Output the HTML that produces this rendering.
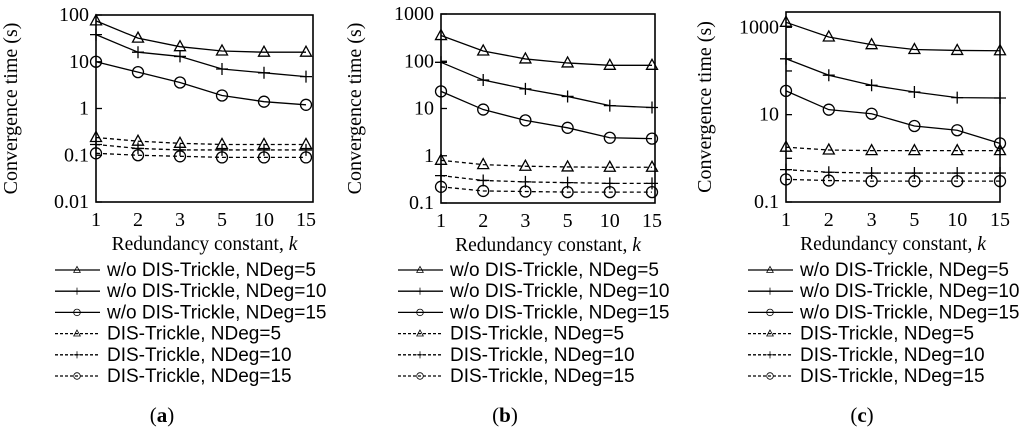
<!DOCTYPE html>
<html><head><meta charset="utf-8"><style>
body{margin:0;background:#fff;width:1024px;height:436px;overflow:hidden}
text{font-family:"Liberation Serif","Times New Roman",serif;}
text.leg{font-family:"Liberation Sans",Arial,sans-serif;}
</style></head><body>
<svg id="s" width="1024" height="436" font-family="Liberation Serif, serif"></svg>
<script>
const categories=["1","2","3","5","10","15"];
const seriesNames=["w/o DIS-Trickle, NDeg=5","w/o DIS-Trickle, NDeg=10","w/o DIS-Trickle, NDeg=15","DIS-Trickle, NDeg=5","DIS-Trickle, NDeg=10","DIS-Trickle, NDeg=15"];
const aWo5=[75,32,21,17,16,16];
const aWo10=[38,16,13,7,5.8,4.8];
const aWo15=[10,6,3.6,1.9,1.4,1.2];
const aDis5=[0.24,0.2,0.18,0.17,0.17,0.17];
const aDis10=[0.17,0.14,0.13,0.13,0.13,0.13];
const aDis15=[0.11,0.1,0.095,0.09,0.09,0.09];
const bWo5=[350,165,112,92,82,82];
const bWo10=[95,40,26,18,11.5,10.5];
const bWo15=[23,9.5,5.6,3.9,2.4,2.3];
const bDis5=[0.8,0.65,0.6,0.58,0.57,0.57];
const bDis10=[0.38,0.3,0.28,0.27,0.26,0.26];
const bDis15=[0.22,0.18,0.175,0.17,0.17,0.17];
const cWo5=[1300,600,400,310,295,290];
const cWo10=[190,80,47,33,24.5,24];
const cWo15=[35,13,10.5,5.5,4.4,2.2];
const cDis5=[1.8,1.55,1.5,1.5,1.5,1.5];
const cDis10=[0.55,0.48,0.46,0.46,0.46,0.46];
const cDis15=[0.33,0.31,0.3,0.3,0.3,0.3];
const aTicks=["100","10","1","0.1","0.01"];
const bTicks=["1000","100","10","1","0.1"];
const cTicks=["1000","","10","","0.1"];
const markers=["tri","plus","circ","tri","plus","circ"];
const S=document.getElementById('s');
const NS="http://www.w3.org/2000/svg";
function mk(t,a,p){const e=document.createElementNS(NS,t);for(const k in a)e.setAttribute(k,a[k]);(p||S).appendChild(e);return e;}
function marker(g,m,x,y){
  if(m==="tri"){const e=mk('polygon',{points:`${x},${y-6} ${x-5.5},${y+4} ${x+5.5},${y+4}`,fill:'none',stroke:'#000','stroke-width':1.3},g);}
  else if(m==="plus"){const e=mk('path',{d:`M${x-6},${y}H${x+6}M${x},${y-6}V${y+6}`,stroke:'#000','stroke-width':1.3},g);}
  else {const e=mk('circle',{cx:x,cy:y,r:5.5,fill:'none',stroke:'#000','stroke-width':1.3},g);}
}
function chart(id,L,R,T,B,x0,dx,logMin,logMax,tickLabels,series,titleX,leg,capX,cap){
  const g=mk('g',{});
  
  
  const xs=i=>x0+i*dx;
  const ys=v=>B-(Math.log10(v)-logMin)/(logMax-logMin)*(B-T);
  const box=mk('rect',{x:L,y:T,width:R-L,height:B-T,fill:'none',stroke:'#000','stroke-width':1.6},g);
  
  const top=Math.floor(logMax);
  tickLabels.forEach((t,i)=>{
    const y=ys(Math.pow(10,top-i));
    const tk=mk('line',{x1:L,x2:L+6,y1:y,y2:y,stroke:'#000','stroke-width':1.3},g);
    
    if(t){const tx=mk('text',{x:L-7,y:y+6,'text-anchor':'end','font-size':20},g);tx.textContent=t;
    }
  });
  categories.forEach((c,i)=>{
    const t=mk('text',{x:xs(i),y:B+24,'text-anchor':'middle','font-size':20},g);t.textContent=c;
    
  });
  const xt=mk('text',{x:(L+R)/2,y:B+48,'text-anchor':'middle','font-size':19.5},g);
  xt.innerHTML='Redundancy constant, <tspan font-style="italic">k</tspan>';
  
  const yt=mk('text',{x:0,y:0,'text-anchor':'middle','font-size':20,transform:`translate(${titleX},${(T+B)/2}) rotate(-90)`},g);
  yt.textContent='Convergence time (s)';
  
  series.forEach((vals,si)=>{
    const dash=si>=3?'4,3':null;
    const pts=vals.map((v,i)=>xs(i)+','+ys(v)).join(' ');
    const a={points:pts,fill:'none',stroke:'#000','stroke-width':1.3};if(dash)a['stroke-dasharray']=dash;
    const pl=mk('polyline',a,g);
    
    vals.forEach((v,i)=>marker(g,markers[si],xs(i),ys(v)));
    const ly=270+si*21.2;
    const la={x1:leg,x2:leg+45,y1:ly,y2:ly,stroke:'#000','stroke-width':1.3};if(dash)la['stroke-dasharray']='3,2';
    const ll=mk('line',la,g);
    
    const gm=mk('g',{transform:`translate(${leg+22},${ly}) scale(0.6)`},g);
    marker(gm,markers[si],0,0);
    const lt=mk('text',{x:leg+52,y:ly+6,'font-size':19,class:'leg'},g);lt.textContent=seriesNames[si];
    
  });
  const cp=mk('text',{x:capX,y:422,'text-anchor':'middle','font-size':21},g);
  cp.innerHTML='(<tspan font-weight="bold">'+cap+'</tspan>)';
  
}
chart('a',96,313,15,202,96,42,-2,2,aTicks,[aWo5,aWo10,aWo15,aDis5,aDis10,aDis15],17,55,162,'a');
chart('b',441,655,14,203,441,42.2,-1,3,bTicks,[bWo5,bWo10,bWo15,bDis5,bDis10,bDis15],361,398,505,'b');
chart('c',786,1000,12,202,786,42.8,-1,3.35,cTicks,[cWo5,cWo10,cWo15,cDis5,cDis10,cDis15],711,748,862,'c');
</script>
</body></html>
